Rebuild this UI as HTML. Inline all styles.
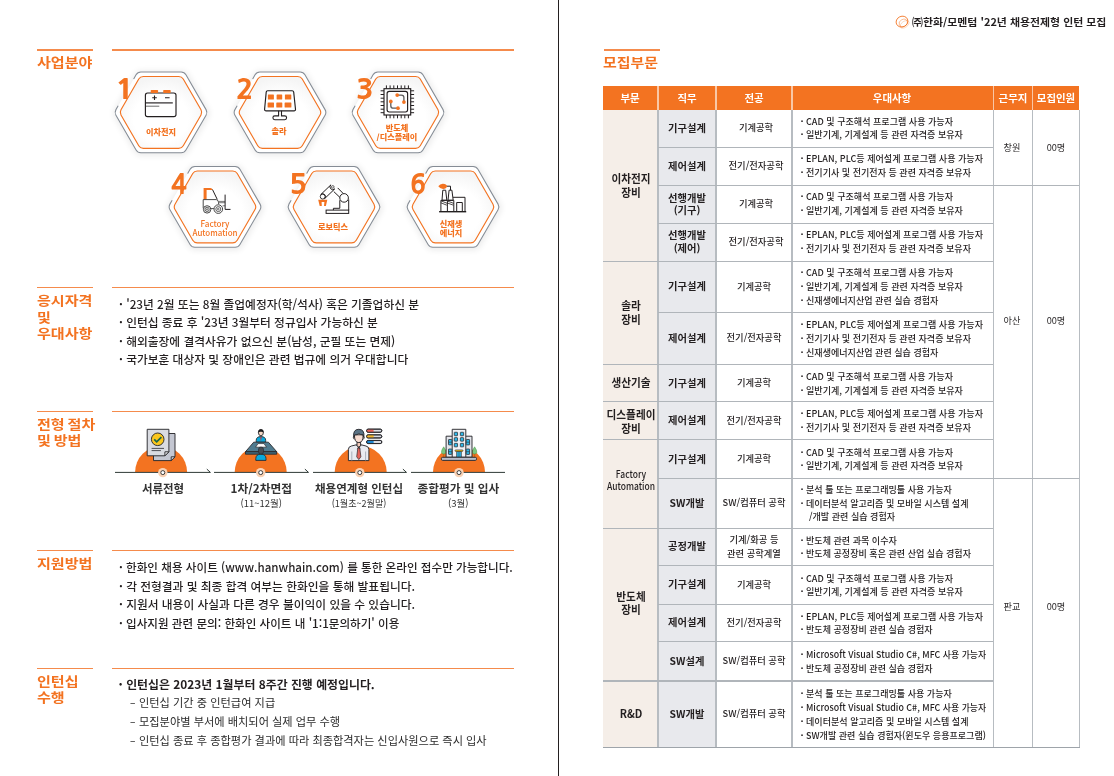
<!DOCTYPE html>
<html lang="ko"><head><meta charset="utf-8"><title>㈜한화/모멘텀 '22년 채용전제형 인턴 모집</title>
<style>
html,body{margin:0;padding:0;background:#fff;}
body{width:1114px;height:776px;position:relative;overflow:hidden;font-family:'Noto Sans CJK KR','Liberation Sans',sans-serif;color:#231F20;}
.t{position:absolute;white-space:pre;margin:0;padding:0;}
.r{position:absolute;}
svg{position:absolute;overflow:visible;}
</style></head><body>
<div class="r" style="left:37.10px;top:49.25px;width:55.90px;height:1.70px;background:#F58B4C;"></div>
<div class="r" style="left:112.00px;top:49.30px;width:401.50px;height:1.40px;background:#F58B4C;"></div>
<div class="t" style="top:53.45px;font-size:13px;font-weight:700;color:#F37321;line-height:18.2px;left:36.70px;transform-origin:0 50%;transform:scaleX(1.16);word-spacing:-1.2px;">사업분야</div>
<div class="r" style="left:37.10px;top:286.75px;width:55.90px;height:1.70px;background:#F58B4C;"></div>
<div class="r" style="left:112.00px;top:286.80px;width:401.50px;height:1.40px;background:#F58B4C;"></div>
<div class="t" style="top:290.95px;font-size:13px;font-weight:700;color:#F37321;line-height:18.2px;left:36.70px;transform-origin:0 50%;transform:scaleX(1.16);word-spacing:-1.2px;">응시자격</div>
<div class="t" style="top:307.55px;font-size:13px;font-weight:700;color:#F37321;line-height:18.2px;left:36.70px;transform-origin:0 50%;transform:scaleX(1.16);word-spacing:-1.2px;">및</div>
<div class="t" style="top:324.15px;font-size:13px;font-weight:700;color:#F37321;line-height:18.2px;left:36.70px;transform-origin:0 50%;transform:scaleX(1.16);word-spacing:-1.2px;">우대사항</div>
<div class="r" style="left:37.10px;top:410.55px;width:55.90px;height:1.70px;background:#F58B4C;"></div>
<div class="r" style="left:112.00px;top:410.60px;width:401.50px;height:1.40px;background:#F58B4C;"></div>
<div class="t" style="top:414.75px;font-size:13px;font-weight:700;color:#F37321;line-height:18.2px;left:36.70px;transform-origin:0 50%;transform:scaleX(1.16);word-spacing:-1.2px;">전형 절차</div>
<div class="t" style="top:431.35px;font-size:13px;font-weight:700;color:#F37321;line-height:18.2px;left:36.70px;transform-origin:0 50%;transform:scaleX(1.16);word-spacing:-1.2px;">및 방법</div>
<div class="r" style="left:37.10px;top:549.55px;width:55.90px;height:1.70px;background:#F58B4C;"></div>
<div class="r" style="left:112.00px;top:549.60px;width:401.50px;height:1.40px;background:#F58B4C;"></div>
<div class="t" style="top:553.75px;font-size:13px;font-weight:700;color:#F37321;line-height:18.2px;left:36.70px;transform-origin:0 50%;transform:scaleX(1.16);word-spacing:-1.2px;">지원방법</div>
<div class="r" style="left:37.10px;top:667.55px;width:55.90px;height:1.70px;background:#F58B4C;"></div>
<div class="r" style="left:112.00px;top:667.60px;width:401.50px;height:1.40px;background:#F58B4C;"></div>
<div class="t" style="top:671.75px;font-size:13px;font-weight:700;color:#F37321;line-height:18.2px;left:36.70px;transform-origin:0 50%;transform:scaleX(1.16);word-spacing:-1.2px;">인턴십</div>
<div class="t" style="top:688.35px;font-size:13px;font-weight:700;color:#F37321;line-height:18.2px;left:36.70px;transform-origin:0 50%;transform:scaleX(1.16);word-spacing:-1.2px;">수행</div>
<div class="t" style="top:296.27px;font-size:11.9px;font-weight:500;color:#231F20;line-height:16.66px;left:119.20px;transform-origin:0 50%;transform:scaleX(0.987);"><b>·</b> '23년 2월 또는 8월 졸업예정자(학/석사) 혹은 기졸업하신 분</div>
<div class="t" style="top:314.47px;font-size:11.9px;font-weight:500;color:#231F20;line-height:16.66px;left:119.20px;transform-origin:0 50%;transform:scaleX(0.987);"><b>·</b> 인턴십 종료 후 '23년 3월부터 정규입사 가능하신 분</div>
<div class="t" style="top:332.67px;font-size:11.9px;font-weight:500;color:#231F20;line-height:16.66px;left:119.20px;transform-origin:0 50%;transform:scaleX(0.987);"><b>·</b> 해외출장에 결격사유가 없으신 분(남성, 군필 또는 면제)</div>
<div class="t" style="top:350.87px;font-size:11.9px;font-weight:500;color:#231F20;line-height:16.66px;left:119.20px;transform-origin:0 50%;transform:scaleX(0.987);"><b>·</b> 국가보훈 대상자 및 장애인은 관련 법규에 의거 우대합니다</div>
<div class="t" style="top:558.87px;font-size:11.9px;font-weight:500;color:#231F20;line-height:16.66px;left:119.20px;transform-origin:0 50%;transform:scaleX(0.9744);"><b>·</b> 한화인 채용 사이트 (www.hanwhain.com) 를 통한 온라인 접수만 가능합니다.</div>
<div class="t" style="top:577.52px;font-size:11.9px;font-weight:500;color:#231F20;line-height:16.66px;left:119.20px;transform-origin:0 50%;transform:scaleX(0.987);"><b>·</b> 각 전형결과 및 최종 합격 여부는 한화인을 통해 발표됩니다.</div>
<div class="t" style="top:596.17px;font-size:11.9px;font-weight:500;color:#231F20;line-height:16.66px;left:119.20px;transform-origin:0 50%;transform:scaleX(0.987);"><b>·</b> 지원서 내용이 사실과 다른 경우 불이익이 있을 수 있습니다.</div>
<div class="t" style="top:614.82px;font-size:11.9px;font-weight:500;color:#231F20;line-height:16.66px;left:119.20px;transform-origin:0 50%;transform:scaleX(0.97335);"><b>·</b> 입사지원 관련 문의: 한화인 사이트 내 '1:1문의하기' 이용</div>
<div class="t" style="top:676.27px;font-size:11.9px;font-weight:700;color:#231F20;line-height:16.66px;left:118.60px;transform-origin:0 50%;"><b>·</b> 인턴십은 2023년 1월부터 8주간 진행 예정입니다.</div>
<div class="t" style="top:694.07px;font-size:11.9px;font-weight:400;color:#2b2b2b;line-height:16.66px;left:130.40px;transform-origin:0 50%;transform:scaleX(0.85);">–</div>
<div class="t" style="top:694.07px;font-size:11.9px;font-weight:400;color:#2b2b2b;line-height:16.66px;left:139.00px;transform-origin:0 50%;transform:scaleX(0.942);">인턴십 기간 중 인턴급여 지급</div>
<div class="t" style="top:712.87px;font-size:11.9px;font-weight:400;color:#2b2b2b;line-height:16.66px;left:130.40px;transform-origin:0 50%;transform:scaleX(0.85);">–</div>
<div class="t" style="top:712.87px;font-size:11.9px;font-weight:400;color:#2b2b2b;line-height:16.66px;left:139.00px;transform-origin:0 50%;transform:scaleX(0.942);">모집분야별 부서에 배치되어 실제 업무 수행</div>
<div class="t" style="top:731.67px;font-size:11.9px;font-weight:400;color:#2b2b2b;line-height:16.66px;left:130.40px;transform-origin:0 50%;transform:scaleX(0.85);">–</div>
<div class="t" style="top:731.67px;font-size:11.9px;font-weight:400;color:#2b2b2b;line-height:16.66px;left:139.00px;transform-origin:0 50%;transform:scaleX(0.942);">인턴십 종료 후 종합평가 결과에 따라 최종합격자는 신입사원으로 즉시 입사</div>
<svg width="0" height="0" style="left:0;top:0"><defs><filter id="hb" x="-20%" y="-20%" width="140%" height="140%"><feGaussianBlur stdDeviation="3"/></filter><radialGradient id="hg" cx="50%" cy="58%" r="56%"><stop offset="0.6" stop-color="#ffffff"/><stop offset="1" stop-color="#f5f5f5"/></radialGradient></defs></svg>
<svg width="120" height="110" viewBox="101.40 56.70 120 110" style="left:101.40px;top:56.70px"><path d="M114.75,116.36 Q112.75,112.90 114.75,109.44 L135.32,73.80 Q137.32,70.33 141.32,70.33 L182.48,70.33 Q186.48,70.33 188.48,73.80 L209.05,109.44 Q211.05,112.90 209.05,116.36 L188.48,152.00 Q186.48,155.47 182.48,155.47 L141.33,155.47 Q137.33,155.47 135.33,152.00 Z" fill="#000" opacity="0.075" filter="url(#hb)"/><path d="M116.35,114.87 Q114.75,112.10 116.35,109.33 L136.47,74.47 Q138.07,71.70 141.27,71.70 L181.53,71.70 Q184.73,71.70 186.33,74.47 L206.45,109.33 Q208.05,112.10 206.45,114.87 L186.33,149.73 Q184.73,152.50 181.53,152.50 L141.28,152.50 Q138.08,152.50 136.48,149.73 Z" fill="#fff"/><path d="M121.40,114.70 Q119.90,112.10 121.40,109.50 L139.15,78.76 Q140.65,76.16 143.65,76.16 L179.15,76.16 Q182.15,76.16 183.65,78.76 L201.40,109.50 Q202.90,112.10 201.40,114.70 L183.65,145.44 Q182.15,148.04 179.15,148.04 L143.65,148.04 Q140.65,148.04 139.15,145.44 Z" fill="url(#hg)" stroke="#F37321" stroke-width="1.15"/><path d="M118.40,105.78 L116.35,109.33 Q114.75,112.10 116.35,114.87 L136.48,149.73 Q138.08,152.50 141.28,152.50 L181.53,152.50 Q184.73,152.50 186.33,149.73 L206.45,114.87 Q208.05,112.10 206.45,109.33 L186.33,74.47 Q184.73,71.70 181.53,71.70 L141.27,71.70 Q138.07,71.70 136.47,74.47 L134.22,78.37" fill="none" stroke="#858C95" stroke-width="1.05" stroke-linecap="round"/><rect x="145.8" y="92.7" width="30.6" height="23.6" rx="2.2" fill="none" stroke="#231F20" stroke-width="1.15"/><rect x="151.10000000000002" y="89.7" width="7.4" height="2.9" rx="0.7" fill="#F37321"/><rect x="163.60000000000002" y="89.7" width="7.5" height="2.9" rx="0.7" fill="#F37321"/><path d="M152.6,97.5h4.6M154.9,95.2v4.6M165.4,97.5h4.6" stroke="#231F20" stroke-width="1.1" fill="none"/><path d="M145.8,102.60000000000001H173.20000000000002" stroke="#231F20" stroke-width="1.15"/><path d="M146.4,105.9H159.70000000000002" stroke="#6b6b6b" stroke-width="1.0"/></svg>
<div class="t" style="top:74.00px;font-size:28.2px;font-weight:800;color:#F37321;line-height:30px;font-family:'NanumGothic','Noto Sans CJK KR',sans-serif;left:115.40px;transform-origin:0 50%;transform:scaleX(1.15);">1</div>
<div class="t" style="top:127.15px;font-size:7.5px;font-weight:900;color:#F37321;line-height:10.5px;left:116.40px;width:90px;text-align:center;transform-origin:50% 50%;transform:scaleX(1.09);">이차전지</div>
<svg width="120" height="110" viewBox="219.80 56.70 120 110" style="left:219.80px;top:56.70px"><path d="M233.15,116.36 Q231.15,112.90 233.15,109.44 L253.72,73.80 Q255.72,70.33 259.73,70.33 L300.88,70.33 Q304.88,70.33 306.88,73.80 L327.45,109.44 Q329.45,112.90 327.45,116.36 L306.88,152.00 Q304.88,155.47 300.88,155.47 L259.73,155.47 Q255.73,155.47 253.73,152.00 Z" fill="#000" opacity="0.075" filter="url(#hb)"/><path d="M234.75,114.87 Q233.15,112.10 234.75,109.33 L254.87,74.47 Q256.47,71.70 259.67,71.70 L299.93,71.70 Q303.12,71.70 304.73,74.47 L324.85,109.33 Q326.45,112.10 324.85,114.87 L304.73,149.73 Q303.12,152.50 299.93,152.50 L259.68,152.50 Q256.48,152.50 254.88,149.73 Z" fill="#fff"/><path d="M239.80,114.70 Q238.30,112.10 239.80,109.50 L257.55,78.76 Q259.05,76.16 262.05,76.16 L297.55,76.16 Q300.55,76.16 302.05,78.76 L319.80,109.50 Q321.30,112.10 319.80,114.70 L302.05,145.44 Q300.55,148.04 297.55,148.04 L262.05,148.04 Q259.05,148.04 257.55,145.44 Z" fill="url(#hg)" stroke="#F37321" stroke-width="1.15"/><path d="M236.80,105.78 L234.75,109.33 Q233.15,112.10 234.75,114.87 L254.88,149.73 Q256.48,152.50 259.68,152.50 L299.93,152.50 Q303.12,152.50 304.73,149.73 L324.85,114.87 Q326.45,112.10 324.85,109.33 L304.73,74.47 Q303.12,71.70 299.93,71.70 L259.67,71.70 Q256.47,71.70 254.87,74.47 L252.62,78.37" fill="none" stroke="#858C95" stroke-width="1.05" stroke-linecap="round"/><g transform="translate(0.10,0.00)"><path d="M267.4,90.4 H291.8 Q293.2,90.4 293.4,91.8 L295.2,108.9 Q295.3,110.5 293.7,110.5 H265.8 Q264.2,110.5 264.3,108.9 L265.9,91.8 Q266,90.4 267.4,90.4Z" fill="none" stroke="#231F20" stroke-width="1.15"/><rect x="267.6" y="94.2" width="6.0" height="5.1" rx="0.5" fill="#F37321"/><rect x="267.3" y="102.2" width="6.4" height="5.0" rx="0.5" fill="#F37321"/><rect x="276.3" y="94.2" width="5.6" height="5.1" rx="0.5" fill="#F37321"/><rect x="276.0" y="102.2" width="6.0" height="5.0" rx="0.5" fill="#F37321"/><rect x="284.6" y="94.2" width="6.4" height="5.1" rx="0.5" fill="#F37321"/><rect x="284.3" y="102.2" width="6.8" height="5.0" rx="0.5" fill="#F37321"/><path d="M278.3,110.5V115.6H274.5a1.9,1.9 0 0 0 0,3.8H284.4a1.9,1.9 0 0 0 0,-3.8H281.2V110.5" fill="none" stroke="#231F20" stroke-width="1.1"/></g></svg>
<div class="t" style="top:74.00px;font-size:28.2px;font-weight:800;color:#F37321;line-height:30px;font-family:'NanumGothic','Noto Sans CJK KR',sans-serif;left:235.80px;transform-origin:0 50%;transform:scaleX(1.02);">2</div>
<div class="t" style="top:126.25px;font-size:7.5px;font-weight:900;color:#F37321;line-height:10.5px;left:233.80px;width:90px;text-align:center;transform-origin:50% 50%;transform:scaleX(1.09);">솔라</div>
<svg width="120" height="110" viewBox="338.20 56.70 120 110" style="left:338.20px;top:56.70px"><path d="M351.55,116.36 Q349.55,112.90 351.55,109.44 L372.12,73.80 Q374.12,70.33 378.12,70.33 L419.27,70.33 Q423.27,70.33 425.27,73.80 L445.85,109.44 Q447.85,112.90 445.85,116.36 L425.27,152.00 Q423.27,155.47 419.27,155.47 L378.12,155.47 Q374.12,155.47 372.12,152.00 Z" fill="#000" opacity="0.075" filter="url(#hb)"/><path d="M353.15,114.87 Q351.55,112.10 353.15,109.33 L373.27,74.47 Q374.87,71.70 378.07,71.70 L418.32,71.70 Q421.52,71.70 423.12,74.47 L443.25,109.33 Q444.85,112.10 443.25,114.87 L423.12,149.73 Q421.52,152.50 418.32,152.50 L378.07,152.50 Q374.88,152.50 373.27,149.73 Z" fill="#fff"/><path d="M358.20,114.70 Q356.70,112.10 358.20,109.50 L375.95,78.76 Q377.45,76.16 380.45,76.16 L415.95,76.16 Q418.95,76.16 420.45,78.76 L438.20,109.50 Q439.70,112.10 438.20,114.70 L420.45,145.44 Q418.95,148.04 415.95,148.04 L380.45,148.04 Q377.45,148.04 375.95,145.44 Z" fill="url(#hg)" stroke="#F37321" stroke-width="1.15"/><path d="M355.20,105.78 L353.15,109.33 Q351.55,112.10 353.15,114.87 L373.27,149.73 Q374.88,152.50 378.07,152.50 L418.32,152.50 Q421.52,152.50 423.12,149.73 L443.25,114.87 Q444.85,112.10 443.25,109.33 L423.12,74.47 Q421.52,71.70 418.32,71.70 L378.07,71.70 Q374.87,71.70 373.27,74.47 L371.02,78.37" fill="none" stroke="#858C95" stroke-width="1.05" stroke-linecap="round"/><g transform="translate(0.00,0.00)"><rect x="384.2" y="88.4" width="26.7" height="26.3" fill="none" stroke="#231F20" stroke-width="1.15"/><rect x="387.3" y="91.1" width="20.5" height="20.6" rx="2.2" fill="none" stroke="#231F20" stroke-width="1.15"/><path d="M386.6,85.1V88.4M386.6,114.7V118M390.3,85.1V88.4M390.3,114.7V118M394,85.1V88.4M394,114.7V118M397.7,85.1V88.4M397.7,114.7V118M401.4,85.1V88.4M401.4,114.7V118M405,85.1V88.4M405,114.7V118M408.6,85.1V88.4M408.6,114.7V118M380.8,90.5H384.2M410.9,90.5H414.3M380.8,94.2H384.2M410.9,94.2H414.3M380.8,97.9H384.2M410.9,97.9H414.3M380.8,101.5H384.2M410.9,101.5H414.3M380.8,105.2H384.2M410.9,105.2H414.3M380.8,108.9H384.2M410.9,108.9H414.3M380.8,112.4H384.2M410.9,112.4H414.3" stroke="#231F20" stroke-width="1.0" fill="none"/><path d="M397.4,94.8H401.6Q404.1,94.8 404.1,97.3V101.8M391,101.1V105.4Q391,107.9 393.5,107.9H398.2" stroke="#5b5b5b" stroke-width="1.3" fill="none"/><circle cx="397.4" cy="94.8" r="1.85" fill="#F37321"/><circle cx="404.1" cy="101.8" r="1.85" fill="#F37321"/><circle cx="391" cy="101.1" r="1.85" fill="#F37321"/><circle cx="398.2" cy="107.9" r="1.85" fill="#F37321"/></g></svg>
<div class="t" style="top:74.00px;font-size:28.2px;font-weight:800;color:#F37321;line-height:30px;font-family:'NanumGothic','Noto Sans CJK KR',sans-serif;left:356.10px;transform-origin:0 50%;transform:scaleX(1.03);">3</div>
<div class="t" style="top:122.55px;font-size:7.5px;font-weight:900;color:#F37321;line-height:10.5px;left:352.20px;width:90px;text-align:center;transform-origin:50% 50%;transform:scaleX(1.09);">반도체</div>
<div class="t" style="top:131.70px;font-size:7.5px;font-weight:900;color:#F37321;line-height:10.5px;left:352.20px;width:90px;text-align:center;transform-origin:50% 50%;transform:scaleX(1.09);">/디스플레이</div>
<svg width="120" height="110" viewBox="155.30 152.00 120 110" style="left:155.30px;top:152.00px"><path d="M168.65,211.16 Q166.65,207.70 168.65,204.24 L189.22,168.60 Q191.22,165.13 195.22,165.13 L236.38,165.13 Q240.38,165.13 242.38,168.60 L262.95,204.24 Q264.95,207.70 262.95,211.16 L242.38,246.80 Q240.38,250.27 236.38,250.27 L195.23,250.27 Q191.23,250.27 189.23,246.80 Z" fill="#000" opacity="0.075" filter="url(#hb)"/><path d="M170.25,209.67 Q168.65,206.90 170.25,204.13 L190.38,169.27 Q191.97,166.50 195.17,166.50 L235.43,166.50 Q238.62,166.50 240.22,169.27 L260.35,204.13 Q261.95,206.90 260.35,209.67 L240.22,244.53 Q238.62,247.30 235.43,247.30 L195.18,247.30 Q191.98,247.30 190.38,244.53 Z" fill="#fff"/><path d="M175.30,209.50 Q173.80,206.90 175.30,204.30 L193.05,173.56 Q194.55,170.96 197.55,170.96 L233.05,170.96 Q236.05,170.96 237.55,173.56 L255.30,204.30 Q256.80,206.90 255.30,209.50 L237.55,240.24 Q236.05,242.84 233.05,242.84 L197.55,242.84 Q194.55,242.84 193.05,240.24 Z" fill="url(#hg)" stroke="#F37321" stroke-width="1.15"/><path d="M172.30,200.58 L170.25,204.13 Q168.65,206.90 170.25,209.67 L190.38,244.53 Q191.98,247.30 195.18,247.30 L235.43,247.30 Q238.62,247.30 240.22,244.53 L260.35,209.67 Q261.95,206.90 260.35,204.13 L240.22,169.27 Q238.62,166.50 235.43,166.50 L195.17,166.50 Q191.97,166.50 190.38,169.27 L188.12,173.17" fill="none" stroke="#858C95" stroke-width="1.05" stroke-linecap="round"/><g transform="translate(0.00,0.00)"><path d="M203.9,199.4V187.9H210.7Q212.4,187.9 212.9,189.6L213,190.1H206.9V199.4Z" fill="#F37321"/><path d="M212.8,189.6L217.6,199.5" stroke="#231F20" stroke-width="1.0" fill="none"/><path d="M203.5,208.3V199.6H216.6Q218.9,200 218.9,202.8V204.2" stroke="#4a4a4a" stroke-width="1.0" fill="none"/><path d="M211.2,208.6H214.2" stroke="#4a4a4a" stroke-width="1.0" fill="none"/><path d="M218.9,201.4H225.4M219.2,202.7H225.4M225.4,205.8H222.9" stroke="#6a6a6a" stroke-width="0.9" fill="none"/><path d="M225.4,194.6V209.4H230.8" stroke="#231F20" stroke-width="1.0" fill="none"/><circle cx="207.4" cy="209.4" r="3.7" fill="#fff" stroke="#3a3a3a" stroke-width="0.95"/><circle cx="207.4" cy="209.4" r="2.15" fill="none" stroke="#3a3a3a" stroke-width="0.8"/><circle cx="207.4" cy="209.4" r="0.74" fill="none" stroke="#3a3a3a" stroke-width="0.7"/><circle cx="218.6" cy="209.1" r="4.3" fill="#fff" stroke="#3a3a3a" stroke-width="0.95"/><circle cx="218.6" cy="209.1" r="2.49" fill="none" stroke="#3a3a3a" stroke-width="0.8"/><circle cx="218.6" cy="209.1" r="0.86" fill="none" stroke="#3a3a3a" stroke-width="0.7"/></g></svg>
<div class="t" style="top:169.30px;font-size:28.2px;font-weight:800;color:#F37321;line-height:30px;font-family:'NanumGothic','Noto Sans CJK KR',sans-serif;left:171.10px;transform-origin:0 50%;transform:scaleX(0.93);">4</div>
<div class="t" style="top:218.40px;font-size:9.0px;font-weight:500;color:#F37321;line-height:12.6px;left:170.30px;width:90px;text-align:center;transform-origin:50% 50%;transform:scaleX(0.9);">Factory</div>
<div class="t" style="top:227.35px;font-size:9.0px;font-weight:500;color:#F37321;line-height:12.6px;left:170.30px;width:90px;text-align:center;transform-origin:50% 50%;transform:scaleX(0.885);">Automation</div>
<svg width="120" height="110" viewBox="273.80 152.00 120 110" style="left:273.80px;top:152.00px"><path d="M287.15,211.16 Q285.15,207.70 287.15,204.24 L307.72,168.60 Q309.72,165.13 313.72,165.13 L354.88,165.13 Q358.88,165.13 360.88,168.60 L381.45,204.24 Q383.45,207.70 381.45,211.16 L360.88,246.80 Q358.88,250.27 354.88,250.27 L313.73,250.27 Q309.73,250.27 307.73,246.80 Z" fill="#000" opacity="0.075" filter="url(#hb)"/><path d="M288.75,209.67 Q287.15,206.90 288.75,204.13 L308.87,169.27 Q310.47,166.50 313.67,166.50 L353.93,166.50 Q357.12,166.50 358.73,169.27 L378.85,204.13 Q380.45,206.90 378.85,209.67 L358.73,244.53 Q357.12,247.30 353.93,247.30 L313.68,247.30 Q310.48,247.30 308.88,244.53 Z" fill="#fff"/><path d="M293.80,209.50 Q292.30,206.90 293.80,204.30 L311.55,173.56 Q313.05,170.96 316.05,170.96 L351.55,170.96 Q354.55,170.96 356.05,173.56 L373.80,204.30 Q375.30,206.90 373.80,209.50 L356.05,240.24 Q354.55,242.84 351.55,242.84 L316.05,242.84 Q313.05,242.84 311.55,240.24 Z" fill="url(#hg)" stroke="#F37321" stroke-width="1.15"/><path d="M290.80,200.58 L288.75,204.13 Q287.15,206.90 288.75,209.67 L308.88,244.53 Q310.48,247.30 313.68,247.30 L353.93,247.30 Q357.12,247.30 358.73,244.53 L378.85,209.67 Q380.45,206.90 378.85,204.13 L358.73,169.27 Q357.12,166.50 353.93,166.50 L313.67,166.50 Q310.47,166.50 308.87,169.27 L306.62,173.17" fill="none" stroke="#858C95" stroke-width="1.05" stroke-linecap="round"/><g transform="translate(0.00,0.00)" fill="none" stroke="#231F20" stroke-width="1.0"><rect x="325.9" y="210.1" width="22.6" height="3.3"/><path d="M333.2,210.1V208.3H339.6V200.2M348.5,199.5V210.1"/><circle cx="343.9" cy="197.9" r="4.3" fill="#fff"/><path d="M337.5,187.9L342.9,193.4M333.6,191.6L339.6,197.3"/><path d="M318,199.8H327.1L325.7,206H323.8L324.2,202.1H321.4L321.6,206H319.5Z" fill="#F37321" stroke="none"/><path d="M330.66,184.88L320.56,194.58A2.8,2.8 0 0 1 324.44,198.62L334.54,188.92A2.8,2.8 0 0 1 330.66,184.88Z" fill="#fff"/><circle cx="322.5" cy="196.6" r="2.4499999999999997" stroke-width="0.9"/><circle cx="332.6" cy="186.9" r="1.3" stroke-width="0.7"/></g></svg>
<div class="t" style="top:169.30px;font-size:28.2px;font-weight:800;color:#F37321;line-height:30px;font-family:'NanumGothic','Noto Sans CJK KR',sans-serif;left:289.00px;transform-origin:0 50%;transform:scaleX(1.06);">5</div>
<div class="t" style="top:221.75px;font-size:7.5px;font-weight:900;color:#F37321;line-height:10.5px;left:288.00px;width:90px;text-align:center;transform-origin:50% 50%;transform:scaleX(1.09);">로보틱스</div>
<svg width="120" height="110" viewBox="392.60 152.00 120 110" style="left:392.60px;top:152.00px"><path d="M405.95,211.16 Q403.95,207.70 405.95,204.24 L426.52,168.60 Q428.52,165.13 432.52,165.13 L473.68,165.13 Q477.68,165.13 479.68,168.60 L500.25,204.24 Q502.25,207.70 500.25,211.16 L479.68,246.80 Q477.68,250.27 473.68,250.27 L432.53,250.27 Q428.53,250.27 426.53,246.80 Z" fill="#000" opacity="0.075" filter="url(#hb)"/><path d="M407.55,209.67 Q405.95,206.90 407.55,204.13 L427.67,169.27 Q429.27,166.50 432.47,166.50 L472.73,166.50 Q475.93,166.50 477.53,169.27 L497.65,204.13 Q499.25,206.90 497.65,209.67 L477.53,244.53 Q475.93,247.30 472.73,247.30 L432.48,247.30 Q429.28,247.30 427.68,244.53 Z" fill="#fff"/><path d="M412.60,209.50 Q411.10,206.90 412.60,204.30 L430.35,173.56 Q431.85,170.96 434.85,170.96 L470.35,170.96 Q473.35,170.96 474.85,173.56 L492.60,204.30 Q494.10,206.90 492.60,209.50 L474.85,240.24 Q473.35,242.84 470.35,242.84 L434.85,242.84 Q431.85,242.84 430.35,240.24 Z" fill="url(#hg)" stroke="#F37321" stroke-width="1.15"/><path d="M409.60,200.58 L407.55,204.13 Q405.95,206.90 407.55,209.67 L427.68,244.53 Q429.28,247.30 432.48,247.30 L472.73,247.30 Q475.93,247.30 477.53,244.53 L497.65,209.67 Q499.25,206.90 497.65,204.13 L477.53,169.27 Q475.93,166.50 472.73,166.50 L432.47,166.50 Q429.27,166.50 427.67,169.27 L425.43,173.17" fill="none" stroke="#858C95" stroke-width="1.05" stroke-linecap="round"/><g transform="translate(0.00,0.00)" fill="none" stroke="#231F20" stroke-width="1.0"><path d="M438.7,211.7H465.8" stroke-width="1.4"/><path d="M442.4,190.2H445.3L446.4,200.2H441.6Z"/><path d="M448.7,190.2H451.5L452.8,200.2H447.6Z"/><path d="M440.5,211.7V200.4H447V211.7M447,200.4H453.4V211.7"/><path d="M440.5,200.8L447,203.4M440.5,202.8L446.4,205.2M447,201L453.4,203.4M447,203L453,205.2" stroke-width="0.8"/><path d="M452.6,197.3H464.6V211.7"/><path d="M456.3,211.7V202.5H461.9V211.7"/><path d="M450.1,190.2V186.2H446"/><path d="M437.9,186.2Q439.6,183.6 442.6,183.7Q446.2,184 446.7,186.3Q446.2,188.8 442.6,188.9Q439.8,188.9 437.9,186.2Z" fill="#F37321" stroke="none"/></g></svg>
<div class="t" style="top:169.30px;font-size:28.2px;font-weight:800;color:#F37321;line-height:30px;font-family:'NanumGothic','Noto Sans CJK KR',sans-serif;left:410.40px;transform-origin:0 50%;transform:scaleX(0.93);">6</div>
<div class="t" style="top:218.85px;font-size:7.5px;font-weight:900;color:#F37321;line-height:10.5px;left:405.80px;width:90px;text-align:center;transform-origin:50% 50%;transform:scaleX(1.09);">신재생</div>
<div class="t" style="top:228.00px;font-size:7.5px;font-weight:900;color:#F37321;line-height:10.5px;left:405.80px;width:90px;text-align:center;transform-origin:50% 50%;transform:scaleX(1.09);">에너지</div>
<svg width="110" height="60" viewBox="113.00 420 110 60" style="left:113.00px;top:420px"><path d="M135.1,472.09999999999997A26,26 0 0 1 187.1,472.09999999999997Z" fill="#F37321"/><path d="M115,472.4H210.4" stroke="#2E3A36" stroke-width="1.0" fill="none"/><path d="M210.4,472.4L206.8,469.09999999999997" stroke="#2E3A36" stroke-width="1.0" fill="none"/><circle cx="162.8" cy="472.59999999999997" r="4.7" fill="#F9D2B5"/><circle cx="162.8" cy="472.59999999999997" r="2.0" fill="#fff" stroke="#2b2b2b" stroke-width="0.9"/></svg>
<svg width="110" height="60" viewBox="212.00 420 110 60" style="left:212.00px;top:420px"><path d="M234.7,472.09999999999997A26,26 0 0 1 286.7,472.09999999999997Z" fill="#F37321"/><path d="M214,472.4H308.5" stroke="#2E3A36" stroke-width="1.0" fill="none"/><path d="M308.5,472.4L304.9,469.09999999999997" stroke="#2E3A36" stroke-width="1.0" fill="none"/><circle cx="260.7" cy="472.59999999999997" r="4.7" fill="#F9D2B5"/><circle cx="260.7" cy="472.59999999999997" r="2.0" fill="#fff" stroke="#2b2b2b" stroke-width="0.9"/></svg>
<svg width="110" height="60" viewBox="310.50 420 110 60" style="left:310.50px;top:420px"><path d="M334.2,472.09999999999997A26,26 0 0 1 386.2,472.09999999999997Z" fill="#F37321"/><path d="M312.5,472.4H406" stroke="#2E3A36" stroke-width="1.0" fill="none"/><path d="M406,472.4L402.4,469.09999999999997" stroke="#2E3A36" stroke-width="1.0" fill="none"/><circle cx="359.3" cy="472.59999999999997" r="4.7" fill="#F9D2B5"/><circle cx="359.3" cy="472.59999999999997" r="2.0" fill="#fff" stroke="#2b2b2b" stroke-width="0.9"/></svg>
<svg width="110" height="60" viewBox="409.00 420 110 60" style="left:409.00px;top:420px"><path d="M433,472.09999999999997A26,26 0 0 1 485,472.09999999999997Z" fill="#F37321"/><path d="M411,472.4H505" stroke="#2E3A36" stroke-width="1.0" fill="none"/><circle cx="459" cy="472.59999999999997" r="4.7" fill="#F9D2B5"/><circle cx="459" cy="472.59999999999997" r="2.0" fill="#fff" stroke="#2b2b2b" stroke-width="0.9"/></svg>
<div class="t" style="top:480.21px;font-size:11.7px;font-weight:700;color:#333333;line-height:16.38px;left:102.80px;width:120px;text-align:center;transform-origin:50% 50%;transform:scaleX(0.98);">서류전형</div>
<div class="t" style="top:480.21px;font-size:11.7px;font-weight:700;color:#333333;line-height:16.38px;left:201.30px;width:120px;text-align:center;transform-origin:50% 50%;">1차/2차면접</div>
<div class="t" style="top:480.21px;font-size:11.7px;font-weight:700;color:#333333;line-height:16.38px;left:289.40px;width:140px;text-align:center;transform-origin:50% 50%;transform:scaleX(0.985);">채용연계형 인턴십</div>
<div class="t" style="top:480.21px;font-size:11.7px;font-weight:700;color:#333333;line-height:16.38px;left:388.30px;width:140px;text-align:center;transform-origin:50% 50%;">종합평가 및 입사</div>
<div class="t" style="top:497.35px;font-size:9.5px;font-weight:400;color:#333333;line-height:13.3px;left:201.30px;width:120px;text-align:center;transform-origin:50% 50%;">(11~12월)</div>
<div class="t" style="top:497.35px;font-size:9.5px;font-weight:400;color:#333333;line-height:13.3px;left:299.30px;width:120px;text-align:center;transform-origin:50% 50%;transform:scaleX(0.955);">(1월초~2월말)</div>
<div class="t" style="top:497.35px;font-size:9.5px;font-weight:400;color:#333333;line-height:13.3px;left:398.30px;width:120px;text-align:center;transform-origin:50% 50%;">(3월)</div>
<svg width="400" height="50" viewBox="120 422 400 50" style="left:120px;top:422px"><g stroke="#2A2A2E" stroke-width="0.95" stroke-linejoin="round"><path d="M153.5,433.5H175V456.8L171.2,460.6H153.5Z" fill="#C4C7D2"/><path d="M175,456.8H171.2V460.6Z" fill="#E4E6EC"/><path d="M147.2,429.3H168.9V451.8L164.9,455.8H147.2Z" fill="#D9DBE1"/><path d="M168.9,451.8H164.9V455.8Z" fill="#F1F2F5"/><circle cx="157.7" cy="439.3" r="6.3" fill="#F9C61E"/><path d="M154.2,439.4L156.7,441.8L161.4,437.2" fill="none" stroke="#17664C" stroke-width="1.7" stroke-linecap="butt" stroke-linejoin="miter"/><path d="M151.6,448.4H164M151.6,450.6H160.9" fill="none" stroke-width="0.8"/></g><g stroke="#2A2A2E" stroke-width="0.9" stroke-linejoin="round"><path d="M256.2,442.2V440.4Q256.2,436.6 260.9,436.6Q265.7,436.6 265.7,440.4V442.2Z" fill="#08A9DC"/><path d="M260.2,437L260.9,441.6L261.7,437Z" fill="#C62F3B" stroke="none"/><ellipse cx="260.9" cy="432.6" rx="2.5" ry="3.1" fill="#F7D9C6"/><path d="M258.3,432.9Q257.9,429.2 260.9,429.2Q263.9,429.2 263.5,432.9Q262.4,431.6 260.9,431.8Q259.4,431.6 258.3,432.9Z" fill="#1d1d1f" stroke="none"/><path d="M253.7,442.2H268.4L276.7,451.7H245.5Z" fill="#4F7B8F"/><path d="M245.5,451.7H276.7V454.2H245.5Z" fill="#3E687C"/><path d="M258,443.6H264L266.5,447.2H255.6Z" fill="#fff" stroke-width="0.7"/><path d="M255.8,460.4V458.6Q255.8,454.2 260.9,454.2Q266,454.2 266,458.6V460.4Z" fill="#08A9DC"/><rect x="258.5" y="447.2" width="5" height="6.8" rx="2.3" fill="#474C51" stroke-width="0.7"/></g><g stroke="#2A2A2E" stroke-width="0.95" stroke-linejoin="round"><path d="M348.4,460.6V449.4Q348.4,446.6 351.4,446L356.4,444.8H361.2L366,446Q368.9,446.6 368.9,449.4V460.6Z" fill="#E9EBF1"/><path d="M351.8,460.6V451.5M365.6,460.6V451.5" fill="none" stroke="#9aa0ac" stroke-width="0.8"/><path d="M357,442V445.5L358.8,447.4L360.6,445.5V442Z" fill="#F3C9B8"/><path d="M357.9,447.6H359.7L360.9,456.8L358.8,459.6L356.7,456.8Z" fill="#E8635A" stroke-width="0.7"/><path d="M356.2,444.9L358.8,447.5L357.3,449.2M361.4,444.9L358.8,447.5L360.3,449.2" fill="none" stroke-width="0.7"/><path d="M354.2,436.5Q353.2,436.3 353.3,437.8Q353.5,439.2 354.6,439.2M363.4,436.5Q364.4,436.3 364.3,437.8Q364.1,439.2 363,439.2" fill="#F3C9B8" stroke-width="0.7"/><path d="M354.4,434.8Q354.4,442.6 358.8,442.6Q363.2,442.6 363.2,434.8Z" fill="#F9DDD1"/><path d="M353.8,437.4Q352.6,429.3 358.8,429.3Q365,429.3 363.8,437.4L363,434.8Q360.4,434.9 358.9,433.6Q357.2,435 354.6,434.9Z" fill="#5B7385"/><rect x="366.6" y="429.15" width="15.2" height="3.1" rx="1.55" fill="#D9DCE2"/><path d="M368.1,429.15H373.6V432.25H368.1A1.55,1.55 0 0 1 368.1,429.15Z" fill="#E8635A" stroke="none"/><rect x="366.6" y="429.15" width="15.2" height="3.1" rx="1.55" fill="none"/><rect x="366.6" y="434.85" width="15.2" height="3.1" rx="1.55" fill="#D9DCE2"/><path d="M368.1,434.85H373.6V437.95H368.1A1.55,1.55 0 0 1 368.1,434.85Z" fill="#F5B82E" stroke="none"/><rect x="366.6" y="434.85" width="15.2" height="3.1" rx="1.55" fill="none"/><rect x="366.6" y="440.45" width="15.2" height="3.1" rx="1.55" fill="#D9DCE2"/><path d="M368.1,440.45H373.6V443.55H368.1A1.55,1.55 0 0 1 368.1,440.45Z" fill="#1E88D2" stroke="none"/><rect x="366.6" y="440.45" width="15.2" height="3.1" rx="1.55" fill="none"/></g><g stroke="#2A2A2E" stroke-width="0.95" stroke-linejoin="round"><path d="M443.7,457V452" stroke="#B5651D" stroke-width="0.9" fill="none"/><path d="M443.7,446.8Q446.3,450.6 445.9,452.4Q445.5,453.9 443.7,453.9Q441.9,453.9 441.5,452.4Q441.09999999999997,450.6 443.7,446.8Z" fill="#7CC67E" stroke="#4d9a52" stroke-width="0.5"/><path d="M474.6,457V452" stroke="#B5651D" stroke-width="0.9" fill="none"/><path d="M474.6,446.8Q477.20000000000005,450.6 476.8,452.4Q476.40000000000003,453.9 474.6,453.9Q472.8,453.9 472.40000000000003,452.4Q472.0,450.6 474.6,446.8Z" fill="#7CC67E" stroke="#4d9a52" stroke-width="0.5"/><path d="M446.1,457.2V436.2H472V457.2Z" fill="#E4E6EC"/><path d="M452.2,457.2V429.3H465.8V457.2Z" fill="#F2F3F6"/><rect x="454.25" y="432.25" width="3.3" height="3.5" rx="0.4" fill="#2DB9EA" stroke-width="0.75"/><rect x="454.25" y="437.65" width="3.3" height="3.5" rx="0.4" fill="#2DB9EA" stroke-width="0.75"/><rect x="454.25" y="443.35" width="3.3" height="3.5" rx="0.4" fill="#2DB9EA" stroke-width="0.75"/><rect x="460.35" y="432.25" width="3.3" height="3.5" rx="0.4" fill="#2DB9EA" stroke-width="0.75"/><rect x="460.35" y="437.65" width="3.3" height="3.5" rx="0.4" fill="#2DB9EA" stroke-width="0.75"/><rect x="460.35" y="443.35" width="3.3" height="3.5" rx="0.4" fill="#2DB9EA" stroke-width="0.75"/><rect x="448.50" y="439.50" width="3.4" height="5.4" rx="0.4" fill="#2DB9EA" stroke-width="0.75"/><path d="M448.50,442.2H451.90" stroke-width="0.6"/><rect x="448.50" y="449.00" width="3.4" height="5.4" rx="0.4" fill="#2DB9EA" stroke-width="0.75"/><path d="M448.50,451.7H451.90" stroke-width="0.6"/><rect x="466.20" y="439.50" width="3.4" height="5.4" rx="0.4" fill="#2DB9EA" stroke-width="0.75"/><path d="M466.20,442.2H469.60" stroke-width="0.6"/><rect x="466.20" y="449.00" width="3.4" height="5.4" rx="0.4" fill="#2DB9EA" stroke-width="0.75"/><path d="M466.20,451.7H469.60" stroke-width="0.6"/><rect x="456.7" y="451.4" width="4.6" height="5.8" fill="#2DB9EA" stroke-width="0.7"/><path d="M459,451.4V457.2" stroke-width="0.5"/><rect x="455" y="449.9" width="8" height="1.5" rx="0.7" fill="#F5C21B" stroke-width="0.6"/><rect x="441.4" y="457.3" width="35.1" height="3.1" rx="1.2" fill="#B9BDC9"/></g></svg>
<div class="r" style="left:558.00px;top:0.00px;width:1.20px;height:776.00px;background:#231F20;"></div>
<div class="t" style="top:14.82px;font-size:10.4px;font-weight:700;color:#231F20;line-height:14.56px;left:911.80px;transform-origin:0 50%;transform:scaleX(1.05);">㈜한화/모멘텀 '22년 채용전제형 인턴 모집</div>
<svg width="18" height="18" viewBox="894 13 18 18" style="left:894px;top:13px"><g fill="none" stroke="#F37321"><ellipse cx="902.0" cy="21.6" rx="6.0" ry="5.3" stroke-width="0.8" transform="rotate(-25 902 21.6)"/><ellipse cx="903.3" cy="23.0" rx="4.3" ry="3.6" stroke-width="0.55" opacity="0.75" transform="rotate(-25 903.3 23)"/><ellipse cx="904.6" cy="24.4" rx="5.0" ry="3.0" stroke-width="0.45" opacity="0.55" transform="rotate(-35 904.6 24.4)"/></g></svg>
<div class="r" style="left:603.80px;top:49.25px;width:56.50px;height:1.70px;background:#F58B4C;"></div>
<div class="t" style="top:52.80px;font-size:13px;font-weight:700;color:#F37321;line-height:18.2px;left:603.30px;transform-origin:0 50%;transform:scaleX(1.15);">모집부문</div>
<div class="r" style="left:603.30px;top:86.00px;width:476.00px;height:23.90px;background:#F37321;"></div>
<div class="r" style="left:657.20px;top:86.00px;width:1.40px;height:23.90px;background:#F9C7A6;"></div>
<div class="r" style="left:715.30px;top:86.00px;width:1.40px;height:23.90px;background:#F9C7A6;"></div>
<div class="r" style="left:791.30px;top:86.00px;width:1.40px;height:23.90px;background:#F9C7A6;"></div>
<div class="r" style="left:992.70px;top:86.00px;width:1.40px;height:23.90px;background:#F9C7A6;"></div>
<div class="r" style="left:1031.70px;top:86.00px;width:1.40px;height:23.90px;background:#F9C7A6;"></div>
<div class="t" style="top:90.53px;font-size:10.6px;font-weight:700;color:#fff;line-height:14.84px;left:570.30px;width:120px;text-align:center;transform-origin:50% 50%;transform:scaleX(0.985);">부문</div>
<div class="t" style="top:90.53px;font-size:10.6px;font-weight:700;color:#fff;line-height:14.84px;left:626.65px;width:120px;text-align:center;transform-origin:50% 50%;transform:scaleX(0.985);">직무</div>
<div class="t" style="top:90.53px;font-size:10.6px;font-weight:700;color:#fff;line-height:14.84px;left:693.70px;width:120px;text-align:center;transform-origin:50% 50%;transform:scaleX(0.985);">전공</div>
<div class="t" style="top:90.53px;font-size:10.6px;font-weight:700;color:#fff;line-height:14.84px;left:832.40px;width:120px;text-align:center;transform-origin:50% 50%;transform:scaleX(0.985);">우대사항</div>
<div class="t" style="top:90.53px;font-size:10.6px;font-weight:700;color:#fff;line-height:14.84px;left:952.60px;width:120px;text-align:center;transform-origin:50% 50%;transform:scaleX(0.985);">근무지</div>
<div class="t" style="top:90.53px;font-size:10.6px;font-weight:700;color:#fff;line-height:14.84px;left:995.55px;width:120px;text-align:center;transform-origin:50% 50%;transform:scaleX(0.985);">모집인원</div>
<div class="r" style="left:603.30px;top:109.50px;width:54.60px;height:637.50px;background:#F5EEE8;"></div>
<div class="r" style="left:657.90px;top:109.50px;width:58.10px;height:637.50px;background:#E8E9ED;"></div>
<div class="r" style="left:657.10px;top:109.50px;width:1.60px;height:637.50px;background:#B7BCC1;"></div>
<div class="r" style="left:715.20px;top:109.50px;width:1.60px;height:637.50px;background:#B7BCC1;"></div>
<div class="r" style="left:791.20px;top:109.50px;width:1.60px;height:637.50px;background:#B7BCC1;"></div>
<div class="r" style="left:992.60px;top:109.50px;width:1.60px;height:637.50px;background:#B7BCC1;"></div>
<div class="r" style="left:1031.60px;top:109.50px;width:1.60px;height:637.50px;background:#B7BCC1;"></div>
<div class="r" style="left:1078.50px;top:109.50px;width:1.60px;height:637.50px;background:#B7BCC1;"></div>
<div class="r" style="left:657.90px;top:146.70px;width:335.50px;height:1.20px;background:#B0B5BA;"></div>
<div class="r" style="left:657.90px;top:184.80px;width:335.50px;height:1.20px;background:#B0B5BA;"></div>
<div class="r" style="left:657.90px;top:222.50px;width:335.50px;height:1.20px;background:#B0B5BA;"></div>
<div class="r" style="left:657.90px;top:260.60px;width:335.50px;height:1.20px;background:#B0B5BA;"></div>
<div class="r" style="left:657.90px;top:311.70px;width:335.50px;height:1.20px;background:#B0B5BA;"></div>
<div class="r" style="left:657.90px;top:364.30px;width:335.50px;height:1.20px;background:#B0B5BA;"></div>
<div class="r" style="left:657.90px;top:401.10px;width:335.50px;height:1.20px;background:#B0B5BA;"></div>
<div class="r" style="left:657.90px;top:439.30px;width:335.50px;height:1.20px;background:#B0B5BA;"></div>
<div class="r" style="left:657.90px;top:477.50px;width:335.50px;height:1.20px;background:#B0B5BA;"></div>
<div class="r" style="left:657.90px;top:527.50px;width:335.50px;height:1.20px;background:#B0B5BA;"></div>
<div class="r" style="left:657.90px;top:565.20px;width:335.50px;height:1.20px;background:#B0B5BA;"></div>
<div class="r" style="left:657.90px;top:603.50px;width:335.50px;height:1.20px;background:#B0B5BA;"></div>
<div class="r" style="left:657.90px;top:641.10px;width:335.50px;height:1.20px;background:#B0B5BA;"></div>
<div class="r" style="left:657.90px;top:680.40px;width:335.50px;height:1.20px;background:#B0B5BA;"></div>
<div class="r" style="left:603.30px;top:746.75px;width:476.60px;height:1.15px;background:#9EA4AA;"></div>
<div class="r" style="left:603.30px;top:260.60px;width:54.60px;height:1.20px;background:#B0B5BA;"></div>
<div class="t" style="top:171.31px;font-size:11.2px;font-weight:700;color:#231F20;line-height:15.68px;left:580.60px;width:100px;text-align:center;transform-origin:50% 50%;transform:scaleX(0.95);">이차전지</div>
<div class="t" style="top:184.91px;font-size:11.2px;font-weight:700;color:#231F20;line-height:15.68px;left:580.60px;width:100px;text-align:center;transform-origin:50% 50%;transform:scaleX(0.95);">장비</div>
<div class="r" style="left:603.30px;top:364.30px;width:54.60px;height:1.20px;background:#B0B5BA;"></div>
<div class="t" style="top:298.01px;font-size:11.2px;font-weight:700;color:#231F20;line-height:15.68px;left:580.60px;width:100px;text-align:center;transform-origin:50% 50%;transform:scaleX(0.95);">솔라</div>
<div class="t" style="top:311.61px;font-size:11.2px;font-weight:700;color:#231F20;line-height:15.68px;left:580.60px;width:100px;text-align:center;transform-origin:50% 50%;transform:scaleX(0.95);">장비</div>
<div class="r" style="left:603.30px;top:401.10px;width:54.60px;height:1.20px;background:#B0B5BA;"></div>
<div class="t" style="top:375.06px;font-size:11.2px;font-weight:700;color:#231F20;line-height:15.68px;left:580.60px;width:100px;text-align:center;transform-origin:50% 50%;transform:scaleX(0.95);">생산기술</div>
<div class="r" style="left:603.30px;top:439.30px;width:54.60px;height:1.20px;background:#B0B5BA;"></div>
<div class="t" style="top:407.36px;font-size:11.2px;font-weight:700;color:#231F20;line-height:15.68px;left:580.60px;width:100px;text-align:center;transform-origin:50% 50%;transform:scaleX(0.95);">디스플레이</div>
<div class="t" style="top:420.96px;font-size:11.2px;font-weight:700;color:#231F20;line-height:15.68px;left:580.60px;width:100px;text-align:center;transform-origin:50% 50%;transform:scaleX(0.95);">장비</div>
<div class="r" style="left:603.30px;top:527.50px;width:54.60px;height:1.20px;background:#B0B5BA;"></div>
<div class="t" style="top:468.21px;font-size:9.7px;font-weight:500;color:#231F20;line-height:13.58px;left:580.60px;width:100px;text-align:center;transform-origin:50% 50%;transform:scaleX(0.875);">Factory</div>
<div class="t" style="top:480.11px;font-size:9.7px;font-weight:500;color:#231F20;line-height:13.58px;left:580.60px;width:100px;text-align:center;transform-origin:50% 50%;transform:scaleX(0.875);">Automation</div>
<div class="r" style="left:603.30px;top:680.40px;width:54.60px;height:1.20px;background:#B0B5BA;"></div>
<div class="t" style="top:588.61px;font-size:11.2px;font-weight:700;color:#231F20;line-height:15.68px;left:580.60px;width:100px;text-align:center;transform-origin:50% 50%;transform:scaleX(0.95);">반도체</div>
<div class="t" style="top:602.21px;font-size:11.2px;font-weight:700;color:#231F20;line-height:15.68px;left:580.60px;width:100px;text-align:center;transform-origin:50% 50%;transform:scaleX(0.95);">장비</div>
<div class="t" style="top:705.76px;font-size:11.2px;font-weight:700;color:#231F20;line-height:15.68px;left:580.60px;width:100px;text-align:center;transform-origin:50% 50%;transform:scaleX(0.95);">R&amp;D</div>
<div class="r" style="left:993.40px;top:184.80px;width:85.90px;height:1.20px;background:#B0B5BA;"></div>
<div class="t" style="top:140.62px;font-size:9.4px;font-weight:400;color:#2d2a2b;line-height:13.16px;left:982.30px;width:60px;text-align:center;transform-origin:50% 50%;transform:scaleX(0.98);">창원</div>
<div class="t" style="top:140.62px;font-size:9.4px;font-weight:400;color:#2d2a2b;line-height:13.16px;left:1025.85px;width:60px;text-align:center;transform-origin:50% 50%;transform:scaleX(0.98);">00명</div>
<div class="r" style="left:993.40px;top:477.50px;width:85.90px;height:1.20px;background:#B0B5BA;"></div>
<div class="t" style="top:313.52px;font-size:9.4px;font-weight:400;color:#2d2a2b;line-height:13.16px;left:982.30px;width:60px;text-align:center;transform-origin:50% 50%;transform:scaleX(0.98);">아산</div>
<div class="t" style="top:313.52px;font-size:9.4px;font-weight:400;color:#2d2a2b;line-height:13.16px;left:1025.85px;width:60px;text-align:center;transform-origin:50% 50%;transform:scaleX(0.98);">00명</div>
<div class="t" style="top:600.42px;font-size:9.4px;font-weight:400;color:#2d2a2b;line-height:13.16px;left:982.30px;width:60px;text-align:center;transform-origin:50% 50%;transform:scaleX(0.98);">판교</div>
<div class="t" style="top:600.42px;font-size:9.4px;font-weight:400;color:#2d2a2b;line-height:13.16px;left:1025.85px;width:60px;text-align:center;transform-origin:50% 50%;transform:scaleX(0.98);">00명</div>
<div class="t" style="top:120.90px;font-size:10.0px;font-weight:700;color:#231F20;line-height:14.0px;left:636.95px;width:100px;text-align:center;transform-origin:50% 50%;transform:scaleX(1.03);">기구설계</div>
<div class="t" style="top:121.22px;font-size:9.4px;font-weight:500;color:#231F20;line-height:13.16px;left:695.70px;width:120px;text-align:center;transform-origin:50% 50%;transform:scaleX(0.99);">기계공학</div>
<div class="t" style="top:114.52px;font-size:9.4px;font-weight:700;color:#231F20;line-height:13.16px;left:800.40px;transform-origin:0 50%;">·</div>
<div class="t" style="top:114.52px;font-size:9.4px;font-weight:500;color:#231F20;line-height:13.16px;left:806.40px;transform-origin:0 50%;transform:scaleX(0.965);">CAD 및 구조해석 프로그램 사용 가능자</div>
<div class="t" style="top:128.32px;font-size:9.4px;font-weight:700;color:#231F20;line-height:13.16px;left:800.40px;transform-origin:0 50%;">·</div>
<div class="t" style="top:128.32px;font-size:9.4px;font-weight:500;color:#231F20;line-height:13.16px;left:806.40px;transform-origin:0 50%;transform:scaleX(0.965);">일반기계, 기계설계 등 관련 자격증 보유자</div>
<div class="t" style="top:158.85px;font-size:10.0px;font-weight:700;color:#231F20;line-height:14.0px;left:636.95px;width:100px;text-align:center;transform-origin:50% 50%;transform:scaleX(1.03);">제어설계</div>
<div class="t" style="top:159.17px;font-size:9.4px;font-weight:500;color:#231F20;line-height:13.16px;left:695.70px;width:120px;text-align:center;transform-origin:50% 50%;transform:scaleX(0.99);">전기/전자공학</div>
<div class="t" style="top:152.47px;font-size:9.4px;font-weight:700;color:#231F20;line-height:13.16px;left:800.40px;transform-origin:0 50%;">·</div>
<div class="t" style="top:152.47px;font-size:9.4px;font-weight:500;color:#231F20;line-height:13.16px;left:806.40px;transform-origin:0 50%;transform:scaleX(0.965);">EPLAN, PLC등 제어설계 프로그램 사용 가능자</div>
<div class="t" style="top:166.27px;font-size:9.4px;font-weight:700;color:#231F20;line-height:13.16px;left:800.40px;transform-origin:0 50%;">·</div>
<div class="t" style="top:166.27px;font-size:9.4px;font-weight:500;color:#231F20;line-height:13.16px;left:806.40px;transform-origin:0 50%;transform:scaleX(0.965);">전기기사 및 전기전자 등 관련 자격증 보유자</div>
<div class="t" style="top:190.50px;font-size:10.0px;font-weight:700;color:#231F20;line-height:14.0px;left:636.95px;width:100px;text-align:center;transform-origin:50% 50%;transform:scaleX(1.03);">선행개발</div>
<div class="t" style="top:203.00px;font-size:10.0px;font-weight:700;color:#231F20;line-height:14.0px;left:636.95px;width:100px;text-align:center;transform-origin:50% 50%;transform:scaleX(1.03);">(기구)</div>
<div class="t" style="top:197.07px;font-size:9.4px;font-weight:500;color:#231F20;line-height:13.16px;left:695.70px;width:120px;text-align:center;transform-origin:50% 50%;transform:scaleX(0.99);">기계공학</div>
<div class="t" style="top:190.37px;font-size:9.4px;font-weight:700;color:#231F20;line-height:13.16px;left:800.40px;transform-origin:0 50%;">·</div>
<div class="t" style="top:190.37px;font-size:9.4px;font-weight:500;color:#231F20;line-height:13.16px;left:806.40px;transform-origin:0 50%;transform:scaleX(0.965);">CAD 및 구조해석 프로그램 사용 가능자</div>
<div class="t" style="top:204.17px;font-size:9.4px;font-weight:700;color:#231F20;line-height:13.16px;left:800.40px;transform-origin:0 50%;">·</div>
<div class="t" style="top:204.17px;font-size:9.4px;font-weight:500;color:#231F20;line-height:13.16px;left:806.40px;transform-origin:0 50%;transform:scaleX(0.965);">일반기계, 기계설계 등 관련 자격증 보유자</div>
<div class="t" style="top:228.40px;font-size:10.0px;font-weight:700;color:#231F20;line-height:14.0px;left:636.95px;width:100px;text-align:center;transform-origin:50% 50%;transform:scaleX(1.03);">선행개발</div>
<div class="t" style="top:240.90px;font-size:10.0px;font-weight:700;color:#231F20;line-height:14.0px;left:636.95px;width:100px;text-align:center;transform-origin:50% 50%;transform:scaleX(1.03);">(제어)</div>
<div class="t" style="top:234.97px;font-size:9.4px;font-weight:500;color:#231F20;line-height:13.16px;left:695.70px;width:120px;text-align:center;transform-origin:50% 50%;transform:scaleX(0.99);">전기/전자공학</div>
<div class="t" style="top:228.27px;font-size:9.4px;font-weight:700;color:#231F20;line-height:13.16px;left:800.40px;transform-origin:0 50%;">·</div>
<div class="t" style="top:228.27px;font-size:9.4px;font-weight:500;color:#231F20;line-height:13.16px;left:806.40px;transform-origin:0 50%;transform:scaleX(0.965);">EPLAN, PLC등 제어설계 프로그램 사용 가능자</div>
<div class="t" style="top:242.07px;font-size:9.4px;font-weight:700;color:#231F20;line-height:13.16px;left:800.40px;transform-origin:0 50%;">·</div>
<div class="t" style="top:242.07px;font-size:9.4px;font-weight:500;color:#231F20;line-height:13.16px;left:806.40px;transform-origin:0 50%;transform:scaleX(0.965);">전기기사 및 전기전자 등 관련 자격증 보유자</div>
<div class="t" style="top:279.25px;font-size:10.0px;font-weight:700;color:#231F20;line-height:14.0px;left:636.95px;width:100px;text-align:center;transform-origin:50% 50%;transform:scaleX(1.03);">기구설계</div>
<div class="t" style="top:279.57px;font-size:9.4px;font-weight:500;color:#231F20;line-height:13.16px;left:694.20px;width:120px;text-align:center;transform-origin:50% 50%;transform:scaleX(0.99);">기계공학</div>
<div class="t" style="top:266.47px;font-size:9.4px;font-weight:700;color:#231F20;line-height:13.16px;left:800.40px;transform-origin:0 50%;">·</div>
<div class="t" style="top:266.47px;font-size:9.4px;font-weight:500;color:#231F20;line-height:13.16px;left:806.40px;transform-origin:0 50%;transform:scaleX(0.965);">CAD 및 구조해석 프로그램 사용 가능자</div>
<div class="t" style="top:280.27px;font-size:9.4px;font-weight:700;color:#231F20;line-height:13.16px;left:800.40px;transform-origin:0 50%;">·</div>
<div class="t" style="top:280.27px;font-size:9.4px;font-weight:500;color:#231F20;line-height:13.16px;left:806.40px;transform-origin:0 50%;transform:scaleX(0.965);">일반기계, 기계설계 등 관련 자격증 보유자</div>
<div class="t" style="top:294.07px;font-size:9.4px;font-weight:700;color:#231F20;line-height:13.16px;left:800.40px;transform-origin:0 50%;">·</div>
<div class="t" style="top:294.07px;font-size:9.4px;font-weight:500;color:#231F20;line-height:13.16px;left:806.40px;transform-origin:0 50%;transform:scaleX(0.965);">신재생에너지산업 관련 실습 경험자</div>
<div class="t" style="top:331.10px;font-size:10.0px;font-weight:700;color:#231F20;line-height:14.0px;left:636.95px;width:100px;text-align:center;transform-origin:50% 50%;transform:scaleX(1.03);">제어설계</div>
<div class="t" style="top:331.42px;font-size:9.4px;font-weight:500;color:#231F20;line-height:13.16px;left:694.20px;width:120px;text-align:center;transform-origin:50% 50%;transform:scaleX(0.99);">전기/전자공학</div>
<div class="t" style="top:318.32px;font-size:9.4px;font-weight:700;color:#231F20;line-height:13.16px;left:800.40px;transform-origin:0 50%;">·</div>
<div class="t" style="top:318.32px;font-size:9.4px;font-weight:500;color:#231F20;line-height:13.16px;left:806.40px;transform-origin:0 50%;transform:scaleX(0.965);">EPLAN, PLC등 제어설계 프로그램 사용 가능자</div>
<div class="t" style="top:332.12px;font-size:9.4px;font-weight:700;color:#231F20;line-height:13.16px;left:800.40px;transform-origin:0 50%;">·</div>
<div class="t" style="top:332.12px;font-size:9.4px;font-weight:500;color:#231F20;line-height:13.16px;left:806.40px;transform-origin:0 50%;transform:scaleX(0.965);">전기기사 및 전기전자 등 관련 자격증 보유자</div>
<div class="t" style="top:345.92px;font-size:9.4px;font-weight:700;color:#231F20;line-height:13.16px;left:800.40px;transform-origin:0 50%;">·</div>
<div class="t" style="top:345.92px;font-size:9.4px;font-weight:500;color:#231F20;line-height:13.16px;left:806.40px;transform-origin:0 50%;transform:scaleX(0.965);">신재생에너지산업 관련 실습 경험자</div>
<div class="t" style="top:375.80px;font-size:10.0px;font-weight:700;color:#231F20;line-height:14.0px;left:636.95px;width:100px;text-align:center;transform-origin:50% 50%;transform:scaleX(1.03);">기구설계</div>
<div class="t" style="top:376.12px;font-size:9.4px;font-weight:500;color:#231F20;line-height:13.16px;left:694.20px;width:120px;text-align:center;transform-origin:50% 50%;transform:scaleX(0.99);">기계공학</div>
<div class="t" style="top:369.92px;font-size:9.4px;font-weight:700;color:#231F20;line-height:13.16px;left:800.40px;transform-origin:0 50%;">·</div>
<div class="t" style="top:369.92px;font-size:9.4px;font-weight:500;color:#231F20;line-height:13.16px;left:806.40px;transform-origin:0 50%;transform:scaleX(0.965);">CAD 및 구조해석 프로그램 사용 가능자</div>
<div class="t" style="top:383.72px;font-size:9.4px;font-weight:700;color:#231F20;line-height:13.16px;left:800.40px;transform-origin:0 50%;">·</div>
<div class="t" style="top:383.72px;font-size:9.4px;font-weight:500;color:#231F20;line-height:13.16px;left:806.40px;transform-origin:0 50%;transform:scaleX(0.965);">일반기계, 기계설계 등 관련 자격증 보유자</div>
<div class="t" style="top:413.30px;font-size:10.0px;font-weight:700;color:#231F20;line-height:14.0px;left:636.95px;width:100px;text-align:center;transform-origin:50% 50%;transform:scaleX(1.03);">제어설계</div>
<div class="t" style="top:413.62px;font-size:9.4px;font-weight:500;color:#231F20;line-height:13.16px;left:694.20px;width:120px;text-align:center;transform-origin:50% 50%;transform:scaleX(0.99);">전기/전자공학</div>
<div class="t" style="top:407.42px;font-size:9.4px;font-weight:700;color:#231F20;line-height:13.16px;left:800.40px;transform-origin:0 50%;">·</div>
<div class="t" style="top:407.42px;font-size:9.4px;font-weight:500;color:#231F20;line-height:13.16px;left:806.40px;transform-origin:0 50%;transform:scaleX(0.965);">EPLAN, PLC등 제어설계 프로그램 사용 가능자</div>
<div class="t" style="top:421.22px;font-size:9.4px;font-weight:700;color:#231F20;line-height:13.16px;left:800.40px;transform-origin:0 50%;">·</div>
<div class="t" style="top:421.22px;font-size:9.4px;font-weight:500;color:#231F20;line-height:13.16px;left:806.40px;transform-origin:0 50%;transform:scaleX(0.965);">전기기사 및 전기전자 등 관련 자격증 보유자</div>
<div class="t" style="top:451.50px;font-size:10.0px;font-weight:700;color:#231F20;line-height:14.0px;left:636.95px;width:100px;text-align:center;transform-origin:50% 50%;transform:scaleX(1.03);">기구설계</div>
<div class="t" style="top:451.82px;font-size:9.4px;font-weight:500;color:#231F20;line-height:13.16px;left:694.20px;width:120px;text-align:center;transform-origin:50% 50%;transform:scaleX(0.99);">기계공학</div>
<div class="t" style="top:445.62px;font-size:9.4px;font-weight:700;color:#231F20;line-height:13.16px;left:800.40px;transform-origin:0 50%;">·</div>
<div class="t" style="top:445.62px;font-size:9.4px;font-weight:500;color:#231F20;line-height:13.16px;left:806.40px;transform-origin:0 50%;transform:scaleX(0.965);">CAD 및 구조해석 프로그램 사용 가능자</div>
<div class="t" style="top:459.42px;font-size:9.4px;font-weight:700;color:#231F20;line-height:13.16px;left:800.40px;transform-origin:0 50%;">·</div>
<div class="t" style="top:459.42px;font-size:9.4px;font-weight:500;color:#231F20;line-height:13.16px;left:806.40px;transform-origin:0 50%;transform:scaleX(0.965);">일반기계, 기계설계 등 관련 자격증 보유자</div>
<div class="t" style="top:495.60px;font-size:10.0px;font-weight:700;color:#231F20;line-height:14.0px;left:636.95px;width:100px;text-align:center;transform-origin:50% 50%;transform:scaleX(1.03);">SW개발</div>
<div class="t" style="top:495.92px;font-size:9.4px;font-weight:500;color:#231F20;line-height:13.16px;left:694.20px;width:120px;text-align:center;transform-origin:50% 50%;transform:scaleX(0.99);">SW/컴퓨터 공학</div>
<div class="t" style="top:482.82px;font-size:9.4px;font-weight:700;color:#231F20;line-height:13.16px;left:800.40px;transform-origin:0 50%;">·</div>
<div class="t" style="top:482.82px;font-size:9.4px;font-weight:500;color:#231F20;line-height:13.16px;left:806.40px;transform-origin:0 50%;transform:scaleX(0.965);">분석 툴 또는 프로그래밍툴 사용 가능자</div>
<div class="t" style="top:496.62px;font-size:9.4px;font-weight:700;color:#231F20;line-height:13.16px;left:800.40px;transform-origin:0 50%;">·</div>
<div class="t" style="top:496.62px;font-size:9.4px;font-weight:500;color:#231F20;line-height:13.16px;left:806.40px;transform-origin:0 50%;transform:scaleX(0.965);">데이터분석 알고리즘 및 모바일 시스템 설계</div>
<div class="t" style="top:510.42px;font-size:9.4px;font-weight:500;color:#231F20;line-height:13.16px;left:809.40px;transform-origin:0 50%;transform:scaleX(0.965);">/개발 관련 실습 경험자</div>
<div class="t" style="top:539.45px;font-size:10.0px;font-weight:700;color:#231F20;line-height:14.0px;left:636.95px;width:100px;text-align:center;transform-origin:50% 50%;transform:scaleX(1.03);">공정개발</div>
<div class="t" style="top:532.87px;font-size:9.4px;font-weight:500;color:#231F20;line-height:13.16px;left:694.20px;width:120px;text-align:center;transform-origin:50% 50%;transform:scaleX(0.99);">기계/화공 등</div>
<div class="t" style="top:546.67px;font-size:9.4px;font-weight:500;color:#231F20;line-height:13.16px;left:694.20px;width:120px;text-align:center;transform-origin:50% 50%;transform:scaleX(0.99);">관련 공학계열</div>
<div class="t" style="top:533.57px;font-size:9.4px;font-weight:700;color:#231F20;line-height:13.16px;left:800.40px;transform-origin:0 50%;">·</div>
<div class="t" style="top:533.57px;font-size:9.4px;font-weight:500;color:#231F20;line-height:13.16px;left:806.40px;transform-origin:0 50%;transform:scaleX(0.965);">반도체 관련 과목 이수자</div>
<div class="t" style="top:547.37px;font-size:9.4px;font-weight:700;color:#231F20;line-height:13.16px;left:800.40px;transform-origin:0 50%;">·</div>
<div class="t" style="top:547.37px;font-size:9.4px;font-weight:500;color:#231F20;line-height:13.16px;left:806.40px;transform-origin:0 50%;transform:scaleX(0.965);">반도체 공정장비 혹은 관련 산업 실습 경험자</div>
<div class="t" style="top:577.45px;font-size:10.0px;font-weight:700;color:#231F20;line-height:14.0px;left:636.95px;width:100px;text-align:center;transform-origin:50% 50%;transform:scaleX(1.03);">기구설계</div>
<div class="t" style="top:577.77px;font-size:9.4px;font-weight:500;color:#231F20;line-height:13.16px;left:694.20px;width:120px;text-align:center;transform-origin:50% 50%;transform:scaleX(0.99);">기계공학</div>
<div class="t" style="top:571.57px;font-size:9.4px;font-weight:700;color:#231F20;line-height:13.16px;left:800.40px;transform-origin:0 50%;">·</div>
<div class="t" style="top:571.57px;font-size:9.4px;font-weight:500;color:#231F20;line-height:13.16px;left:806.40px;transform-origin:0 50%;transform:scaleX(0.965);">CAD 및 구조해석 프로그램 사용 가능자</div>
<div class="t" style="top:585.37px;font-size:9.4px;font-weight:700;color:#231F20;line-height:13.16px;left:800.40px;transform-origin:0 50%;">·</div>
<div class="t" style="top:585.37px;font-size:9.4px;font-weight:500;color:#231F20;line-height:13.16px;left:806.40px;transform-origin:0 50%;transform:scaleX(0.965);">일반기계, 기계설계 등 관련 자격증 보유자</div>
<div class="t" style="top:615.40px;font-size:10.0px;font-weight:700;color:#231F20;line-height:14.0px;left:636.95px;width:100px;text-align:center;transform-origin:50% 50%;transform:scaleX(1.03);">제어설계</div>
<div class="t" style="top:615.72px;font-size:9.4px;font-weight:500;color:#231F20;line-height:13.16px;left:694.20px;width:120px;text-align:center;transform-origin:50% 50%;transform:scaleX(0.99);">전기/전자공학</div>
<div class="t" style="top:609.52px;font-size:9.4px;font-weight:700;color:#231F20;line-height:13.16px;left:800.40px;transform-origin:0 50%;">·</div>
<div class="t" style="top:609.52px;font-size:9.4px;font-weight:500;color:#231F20;line-height:13.16px;left:806.40px;transform-origin:0 50%;transform:scaleX(0.965);">EPLAN, PLC등 제어설계 프로그램 사용 가능자</div>
<div class="t" style="top:623.32px;font-size:9.4px;font-weight:700;color:#231F20;line-height:13.16px;left:800.40px;transform-origin:0 50%;">·</div>
<div class="t" style="top:623.32px;font-size:9.4px;font-weight:500;color:#231F20;line-height:13.16px;left:806.40px;transform-origin:0 50%;transform:scaleX(0.965);">반도체 공정장비 관련 실습 경험자</div>
<div class="t" style="top:653.85px;font-size:10.0px;font-weight:700;color:#231F20;line-height:14.0px;left:636.95px;width:100px;text-align:center;transform-origin:50% 50%;transform:scaleX(1.03);">SW설계</div>
<div class="t" style="top:654.17px;font-size:9.4px;font-weight:500;color:#231F20;line-height:13.16px;left:694.20px;width:120px;text-align:center;transform-origin:50% 50%;transform:scaleX(0.99);">SW/컴퓨터 공학</div>
<div class="t" style="top:647.97px;font-size:9.4px;font-weight:700;color:#231F20;line-height:13.16px;left:800.40px;transform-origin:0 50%;">·</div>
<div class="t" style="top:647.97px;font-size:9.4px;font-weight:500;color:#231F20;line-height:13.16px;left:806.40px;transform-origin:0 50%;transform:scaleX(0.947);">Microsoft Visual Studio C#, MFC 사용 가능자</div>
<div class="t" style="top:661.77px;font-size:9.4px;font-weight:700;color:#231F20;line-height:13.16px;left:800.40px;transform-origin:0 50%;">·</div>
<div class="t" style="top:661.77px;font-size:9.4px;font-weight:500;color:#231F20;line-height:13.16px;left:806.40px;transform-origin:0 50%;transform:scaleX(0.965);">반도체 공정장비 관련 실습 경험자</div>
<div class="t" style="top:706.50px;font-size:10.0px;font-weight:700;color:#231F20;line-height:14.0px;left:636.95px;width:100px;text-align:center;transform-origin:50% 50%;transform:scaleX(1.03);">SW개발</div>
<div class="t" style="top:706.82px;font-size:9.4px;font-weight:500;color:#231F20;line-height:13.16px;left:694.20px;width:120px;text-align:center;transform-origin:50% 50%;transform:scaleX(0.99);">SW/컴퓨터 공학</div>
<div class="t" style="top:687.22px;font-size:9.4px;font-weight:700;color:#231F20;line-height:13.16px;left:800.40px;transform-origin:0 50%;">·</div>
<div class="t" style="top:687.22px;font-size:9.4px;font-weight:500;color:#231F20;line-height:13.16px;left:806.40px;transform-origin:0 50%;transform:scaleX(0.965);">분석 툴 또는 프로그래밍툴 사용 가능자</div>
<div class="t" style="top:701.02px;font-size:9.4px;font-weight:700;color:#231F20;line-height:13.16px;left:800.40px;transform-origin:0 50%;">·</div>
<div class="t" style="top:701.02px;font-size:9.4px;font-weight:500;color:#231F20;line-height:13.16px;left:806.40px;transform-origin:0 50%;transform:scaleX(0.947);">Microsoft Visual Studio C#, MFC 사용 가능자</div>
<div class="t" style="top:714.82px;font-size:9.4px;font-weight:700;color:#231F20;line-height:13.16px;left:800.40px;transform-origin:0 50%;">·</div>
<div class="t" style="top:714.82px;font-size:9.4px;font-weight:500;color:#231F20;line-height:13.16px;left:806.40px;transform-origin:0 50%;transform:scaleX(0.965);">데이터분석 알고리즘 및 모바일 시스템 설계</div>
<div class="t" style="top:728.62px;font-size:9.4px;font-weight:700;color:#231F20;line-height:13.16px;left:800.40px;transform-origin:0 50%;">·</div>
<div class="t" style="top:728.62px;font-size:9.4px;font-weight:500;color:#231F20;line-height:13.16px;left:806.40px;transform-origin:0 50%;transform:scaleX(0.965);">SW개발 관련 실습 경험자(윈도우 응용프로그램)</div>
</body></html>
